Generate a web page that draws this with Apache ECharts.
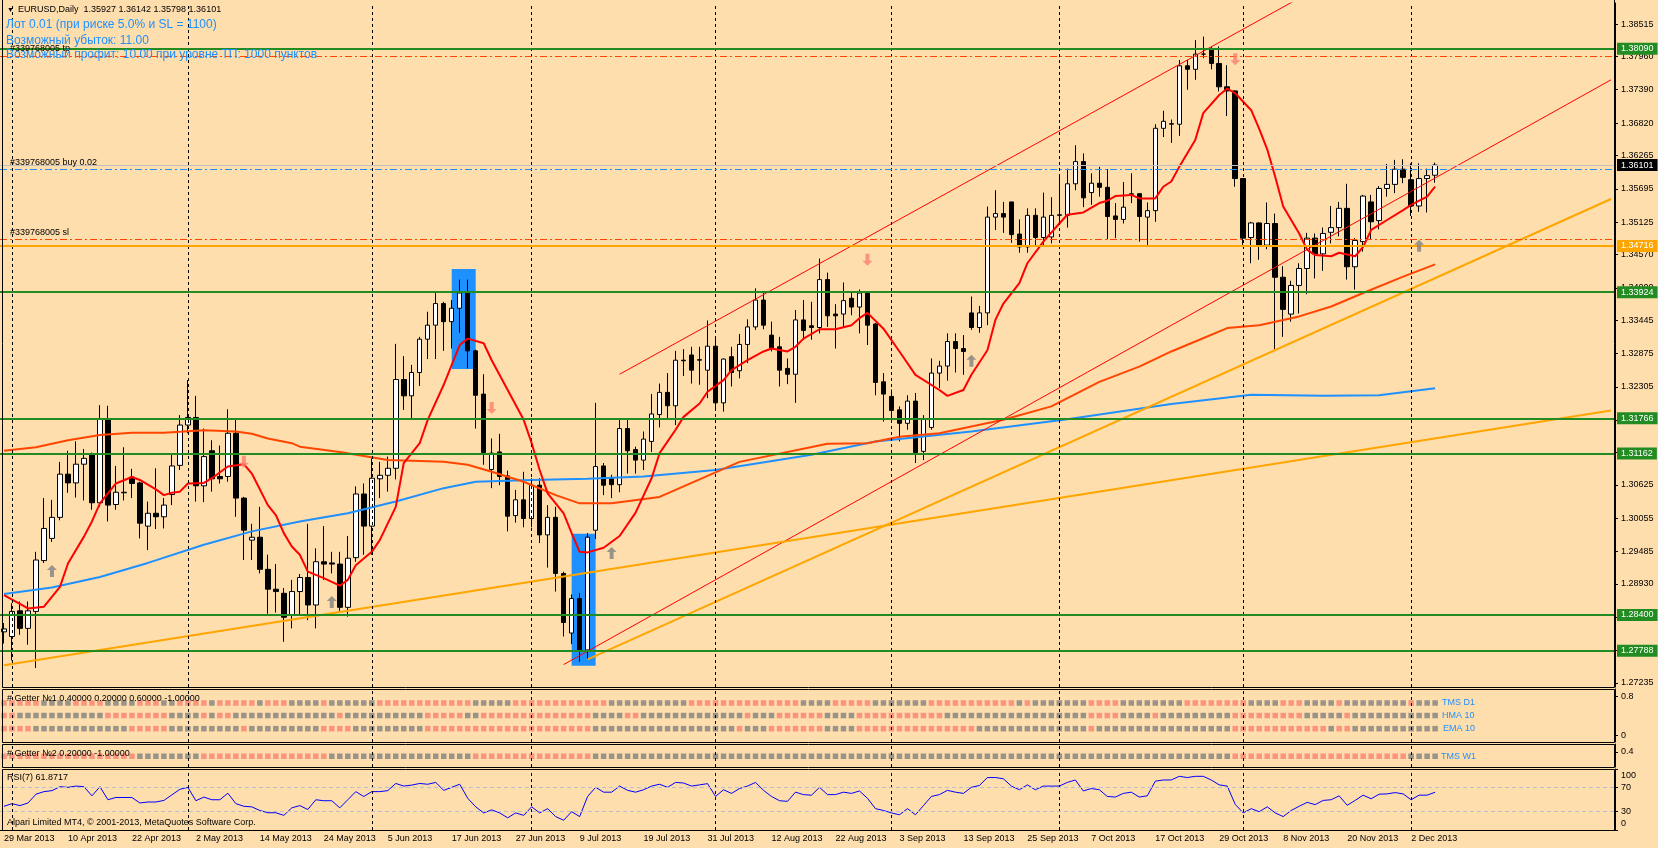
<!DOCTYPE html>
<html>
<head>
<meta charset="utf-8">
<title>EURUSD, Daily</title>
<script src="https://cdn.jsdelivr.net/npm/echarts@6/dist/echarts.min.js"></script>
<style>
html, body { margin: 0; padding: 0; background: #FFDEAD; }
#chart { width: 1658px; height: 848px; }
</style>
</head>
<body>
<div id="chart"></div>
<script>
// bottom axis labels, one every 8 bars from the first bar
var tickLabels = ['29 Mar 2013','10 Apr 2013','22 Apr 2013','2 May 2013','14 May 2013','24 May 2013','5 Jun 2013',
    '17 Jun 2013','27 Jun 2013','9 Jul 2013','19 Jul 2013','31 Jul 2013','12 Aug 2013','22 Aug 2013','3 Sep 2013',
    '13 Sep 2013','25 Sep 2013','7 Oct 2013','17 Oct 2013','29 Oct 2013','8 Nov 2013','20 Nov 2013','2 Dec 2013'];

// right price scale, as MT4 prints it
var priceTicks = [1.38515,1.37960,1.37390,1.36820,1.36265,1.35695,1.35125,1.34570,1.34000,1.33445,1.32875,
    1.32305,1.31735,1.31180,1.30625,1.30055,1.29485,1.28930,1.28360,1.27790,1.27235];

// bar index of the first bar of each month (period separators)
var monthStarts = [1, 23, 46, 66, 89, 111, 132, 155, 176];

// daily bars: open, high, low, close
var ohlc = [
[1.2811,1.2826,1.2791,1.2816],[1.2803,1.2860,1.2762,1.2846],[1.2847,1.2863,1.2806,1.2817],[1.2817,1.2863,1.2789,1.2847],
[1.2846,1.2948,1.2749,1.2934],[1.2933,1.3040,1.2929,1.2988],[1.2971,1.3037,1.2965,1.3007],[1.3007,1.3102,1.3002,1.3081],
[1.3081,1.3121,1.3049,1.3066],[1.3066,1.3137,1.3041,1.3098],[1.3098,1.3124,1.3036,1.3108],[1.3114,1.3118,1.3020,1.3032],
[1.3032,1.3199,1.3025,1.3175],[1.3175,1.3198,1.3000,1.3028],[1.3029,1.3095,1.3020,1.3050],[1.3049,1.3127,1.3036,1.3050],
[1.3076,1.3090,1.3040,1.3065],[1.3066,1.3068,1.2971,1.2997],[1.2992,1.3034,1.2951,1.3014],[1.3014,1.3091,1.2987,1.3008],
[1.3008,1.3040,1.2988,1.3028],[1.3046,1.3115,1.3028,1.3095],[1.3096,1.3182,1.3088,1.3165],[1.3165,1.3242,1.3151,1.3178],
[1.3178,1.3215,1.3034,1.3061],[1.3061,1.3159,1.3033,1.3111],[1.3121,1.3139,1.3051,1.3073],[1.3077,1.3130,1.3065,1.3073],
[1.3077,1.3192,1.3068,1.3151],[1.3151,1.3175,1.3008,1.3040],[1.3040,1.3042,1.2934,1.2985],[1.2968,1.2996,1.2934,1.2973],
[1.2973,1.3025,1.2911,1.2918],[1.2918,1.2943,1.2842,1.2884],[1.2884,1.2927,1.2844,1.2880],[1.2877,1.2886,1.2794,1.2836],
[1.2840,1.2900,1.2817,1.2880],[1.2880,1.2910,1.2840,1.2904],[1.2904,1.2996,1.2831,1.2857],[1.2857,1.2954,1.2817,1.2931],
[1.2931,1.2992,1.2900,1.2927],[1.2929,1.2948,1.2911,1.2927],[1.2927,1.2948,1.2847,1.2853],[1.2853,1.2975,1.2837,1.2937],
[1.2938,1.3060,1.2931,1.3047],[1.3047,1.3065,1.2943,1.2992],[1.2992,1.3108,1.2943,1.3074],[1.3073,1.3102,1.3040,1.3079],
[1.3079,1.3111,1.3051,1.3091],[1.3091,1.3304,1.3072,1.3243],[1.3243,1.3283,1.3191,1.3215],[1.3215,1.3268,1.3175,1.3255],
[1.3255,1.3316,1.3232,1.3312],[1.3312,1.3359,1.3278,1.3336],[1.3336,1.3391,1.3278,1.3373],[1.3373,1.3376,1.3292,1.3342],
[1.3342,1.3379,1.3296,1.3365],[1.3365,1.3414,1.3323,1.3391],[1.3391,1.3414,1.3262,1.3292],[1.3292,1.3294,1.3159,1.3216],
[1.3218,1.3252,1.3097,1.3118],[1.3089,1.3142,1.3057,1.3117],[1.3119,1.3150,1.3062,1.3077],[1.3078,1.3087,1.2983,1.3009],
[1.3010,1.3054,1.2998,1.3037],[1.3037,1.3085,1.2990,1.3005],[1.3005,1.3074,1.2990,1.3062],[1.3062,1.3074,1.2963,1.2977],
[1.2977,1.3028,1.2921,1.3007],[1.3007,1.3025,1.2880,1.2911],[1.2911,1.2914,1.2803,1.2827],[1.2809,1.2875,1.2790,1.2868],
[1.2868,1.2877,1.2760,1.2780],[1.2780,1.2980,1.2765,1.2973],[1.2985,1.3203,1.2970,1.3094],[1.3095,1.3100,1.3045,1.3062],
[1.3074,1.3080,1.3040,1.3063],[1.3063,1.3174,1.3050,1.3159],[1.3159,1.3174,1.3082,1.3121],[1.3123,1.3128,1.3082,1.3105],
[1.3105,1.3154,1.3088,1.3141],[1.3137,1.3218,1.3119,1.3184],[1.3183,1.3236,1.3161,1.3221],[1.3221,1.3254,1.3177,1.3198],
[1.3198,1.3292,1.3165,1.3276],[1.3276,1.3295,1.3249,1.3275],[1.3285,1.3299,1.3236,1.3259],[1.3276,1.3299,1.3234,1.3277],
[1.3259,1.3344,1.3211,1.3300],[1.3300,1.3313,1.3191,1.3203],[1.3203,1.3279,1.3188,1.3278],[1.3282,1.3299,1.3231,1.3255],
[1.3258,1.3321,1.3245,1.3303],[1.3303,1.3346,1.3271,1.3333],[1.3333,1.3399,1.3328,1.3379],[1.3379,1.3391,1.3329,1.3336],
[1.3319,1.3342,1.3291,1.3296],[1.3299,1.3316,1.3231,1.3259],[1.3262,1.3279,1.3235,1.3252],[1.3252,1.3362,1.3203,1.3345],
[1.3345,1.3379,1.3311,1.3327],[1.3335,1.3376,1.3311,1.3332],[1.3332,1.3450,1.3322,1.3414],[1.3414,1.3426,1.3333,1.3352],
[1.3355,1.3372,1.3296,1.3352],[1.3355,1.3409,1.3333,1.3378],[1.3382,1.3393,1.3353,1.3367],[1.3367,1.3397,1.3322,1.3391],
[1.3391,1.3393,1.3302,1.3336],[1.3338,1.3340,1.3216,1.3238],[1.3239,1.3254,1.3171,1.3218],[1.3214,1.3226,1.3177,1.3190],
[1.3191,1.3197,1.3137,1.3168],[1.3168,1.3216,1.3157,1.3206],[1.3206,1.3220,1.3100,1.3118],[1.3120,1.3182,1.3105,1.3175],
[1.3161,1.3279,1.3157,1.3254],[1.3254,1.3275,1.3228,1.3266],[1.3266,1.3322,1.3241,1.3308],[1.3308,1.3322,1.3255,1.3296],
[1.3296,1.3319,1.3251,1.3291],[1.3357,1.3385,1.3328,1.3332],[1.3332,1.3369,1.3323,1.3357],[1.3357,1.3539,1.3336,1.3521],
[1.3521,1.3567,1.3499,1.3527],[1.3527,1.3547,1.3494,1.3521],[1.3547,1.3547,1.3477,1.3491],[1.3492,1.3517,1.3460,1.3470],
[1.3470,1.3536,1.3460,1.3524],[1.3524,1.3536,1.3470,1.3486],[1.3486,1.3563,1.3470,1.3521],[1.3487,1.3555,1.3476,1.3524],
[1.3524,1.3591,1.3510,1.3525],[1.3524,1.3604,1.3503,1.3578],[1.3578,1.3644,1.3567,1.3616],[1.3616,1.3630,1.3538,1.3554],
[1.3563,1.3596,1.3542,1.3579],[1.3579,1.3607,1.3556,1.3572],[1.3572,1.3603,1.3483,1.3522],[1.3523,1.3545,1.3485,1.3517],
[1.3517,1.3581,1.3510,1.3538],[1.3560,1.3596,1.3545,1.3561],[1.3561,1.3562,1.3479,1.3522],[1.3521,1.3546,1.3472,1.3532],
[1.3532,1.3680,1.3513,1.3673],[1.3673,1.3703,1.3658,1.3685],[1.3680,1.3688,1.3648,1.3681],[1.3680,1.3790,1.3660,1.3780],
[1.3780,1.3790,1.3739,1.3774],[1.3774,1.3824,1.3756,1.3800],[1.3800,1.3830,1.3793,1.3800],[1.3808,1.3813,1.3774,1.3784],
[1.3784,1.3813,1.3736,1.3744],[1.3744,1.3781,1.3694,1.3737],[1.3737,1.3738,1.3573,1.3587],[1.3587,1.3588,1.3473,1.3485],
[1.3486,1.3513,1.3442,1.3511],[1.3511,1.3512,1.3448,1.3473],[1.3473,1.3546,1.3466,1.3510],[1.3510,1.3527,1.3295,1.3418],
[1.3418,1.3437,1.3316,1.3363],[1.3355,1.3412,1.3342,1.3404],[1.3404,1.3442,1.3356,1.3433],[1.3433,1.3494,1.3389,1.3485],
[1.3485,1.3493,1.3416,1.3458],[1.3458,1.3503,1.3429,1.3493],[1.3495,1.3540,1.3476,1.3503],[1.3503,1.3547,1.3488,1.3536],
[1.3536,1.3578,1.3414,1.3436],[1.3436,1.3485,1.3397,1.3481],[1.3479,1.3559,1.3462,1.3557],[1.3547,1.3559,1.3482,1.3513],
[1.3515,1.3574,1.3500,1.3570],[1.3570,1.3612,1.3556,1.3577],[1.3577,1.3619,1.3562,1.3603],[1.3603,1.3620,1.3579,1.3589],
[1.3585,1.3613,1.3523,1.3540],[1.3540,1.3613,1.3530,1.3587],[1.3587,1.3604,1.3529,1.3592],[1.35927,1.36142,1.35798,1.36101]
];

// moving averages: [bar, price]
var fastMA = [[0,1.2874],[3,1.2851],[5,1.2854],[7,1.2888],[8,1.2928],[10,1.2974],[11,1.3000],[12,1.3031],[13,1.3048],
    [14,1.3065],[16,1.3076],[17,1.3071],[19,1.3055],[20,1.3045],[21,1.3049],[22,1.3051],[23,1.3065],[25,1.3066],[26,1.3074],
    [28,1.3094],[30,1.3098],[31,1.3082],[33,1.3028],[34,1.3011],[35,1.2980],[36,1.2957],[37,1.2943],[38,1.2914],[40,1.2903],
    [42,1.2890],[43,1.2900],[44,1.2925],[46,1.2948],[47,1.2968],[49,1.3025],[50,1.3100],[52,1.3134],[53,1.3174],[55,1.3234],
    [56,1.3268],[57,1.3302],[58,1.3313],[60,1.3305],[61,1.3276],[63,1.3225],[65,1.3174],[66,1.3134],[67,1.3088],[68,1.3048],
    [70,1.3014],[71,1.2980],[72,1.2948],[73,1.2947],[75,1.2955],[77,1.2975],[79,1.3015],[81,1.3074],[82,1.3117],[84,1.3157],
    [85,1.3179],[87,1.3202],[88,1.3222],[90,1.3242],[91,1.3259],[93,1.3276],[95,1.3291],[96,1.3296],[98,1.3291],[99,1.3299],
    [100,1.3313],[102,1.3329],[104,1.3329],[106,1.3336],[107,1.3348],[108,1.3357],[110,1.3330],[112,1.3291],[114,1.3251],
    [117,1.3225],[118,1.3215],[120,1.3225],[121,1.3251],[123,1.3293],[124,1.3345],[125,1.3373],[127,1.3408],[128,1.3442],
    [130,1.3479],[132,1.3510],[133,1.3525],[135,1.3529],[137,1.3545],[138,1.3549],[139,1.3557],[141,1.3559],[142,1.3553],
    [144,1.3553],[145,1.3573],[146,1.3582],[147,1.3607],[149,1.3653],[150,1.3699],[152,1.3730],[153,1.3741],[154,1.3733],
    [156,1.3704],[157,1.3672],[158,1.3637],[159,1.3590],[160,1.3539],[162,1.3493],[163,1.3465],[164,1.3456],[166,1.3454],
    [167,1.3460],[169,1.3454],[170,1.3470],[171,1.3499],[173,1.3516],[175,1.3533],[176,1.3542],[178,1.3556],[179,1.3573]];
var slowMA = [[0,1.3121],[4,1.3127],[8,1.3139],[12,1.3148],[16,1.3152],[20,1.3152],[25,1.3156],[29,1.3154],[31,1.3150],
    [33,1.3142],[36,1.3134],[37,1.3128],[42,1.3119],[48,1.3105],[55,1.3102],[58,1.3097],[61,1.3085],[65,1.3068],[69,1.3045],
    [72,1.3031],[76,1.3031],[82,1.3042],[92,1.3102],[103,1.3133],[108,1.3134],[112,1.3145],[117,1.3151],[125,1.3174],
    [131,1.3197],[137,1.3239],[142,1.3265],[146,1.3291],[149,1.3308],[153,1.3331],[157,1.3336],[162,1.3351],[166,1.3368],
    [170,1.3391],[175,1.3419],[179,1.3440]];
var longMA = [[0,1.2876],[6,1.2887],[12,1.2905],[18,1.2929],[25,1.2960],[31,1.2983],[37,1.3000],[43,1.3014],[49,1.3034],
    [55,1.3057],[59,1.3068],[66,1.3071],[73,1.3073],[80,1.3077],[89,1.3088],[101,1.3114],[109,1.3137],[121,1.3154],[133,1.3175],
    [146,1.3201],[156,1.3217],[165,1.3215],[172,1.3216],[179,1.3228]];

// drawn objects
var redTrends = [[[77,1.3252],[164,1.3911]], [[70,1.2755],[201,1.3756]]];
var orangeTrends = [[[0,1.2754],[201,1.3190]], [[73,1.2764],[201,1.3552]]];
var blueBoxes = [[56,1.3432,59,1.3261], [71,1.2979,74,1.2753]];
var upArrows = [[6,1.2915],[41,1.2862],[76,1.2946],[121,1.3275],[177,1.3472]];
var downArrows = [[30,1.3102],[61,1.3194],[108,1.3448],[154,1.3791]];
var greenLevels = [1.38090, 1.33924, 1.31766, 1.31162, 1.28400, 1.27788];
var orangeLevel = 1.34716;
var bidPrice = 1.36101;
var orderOpen = 1.36030, orderTP = 1.37960, orderSL = 1.34830;

// Getter squares per bar: s = salmon, g = gray
var rowTMSD1 = 'sssssggggs sssggggsss ggssssgsss ssgsssgggg sggggggsss sssssssssg ggggssssss ssssssgggg ggggggssss ssssssssss ggggsssssg ggggggssss sssssssgsg ggggggssss ggggggggss ssssssgggg sssggggsgg ggggggsggg';
var rowHMA10 = 'ssgggggggg gggsssssss sggggsgssg gggggggggg ggsggggggg gggsssssgg ssssssssss ssssggggss gggggggggg gggsgggsss sssggggsss ssssssssgg gggggggggg ggggggssss ggggsggggg ggggssssss sssgggggsg gggggggggg';
var rowEMA10 = 'ssssgggggg ggggggssss sggggggggg sggggggggg ssssgggggg gggsssssss ssssssssss ssssgggggg gggggggggg ggsgggssss sssggggsss ssssssssss ssgggggggg ggggggsggg gggggggggg ggggssssss ssssssgssg gggggggggg';
var rowTMSW1 = 'ssssssssss sssssssggg gggggsssss ssssssssss sggggggggg gggggggggs ssssssssss ssssgggggg gggggggggg gggggggggg gggggggggg gggggggggg gggggggggg gggggggggg gggggggggg ggggssssss ssssssssss ssssssgggg';

// RSI(7)
var rsi = [38.9,43.2,40,44.3,58.7,62.9,64.5,71,69.9,72, 71,56,71,49.6,53.3,53.3,53.3,44.3,45.9,45.9,
    48.5,57.6,66.7,69.9,48,53.9,49.6,49.6,60.3,43.2, 38.9,37.9,32,28.3,28.3,24,36.3,40,33.6,49.6,
    48,48,36.3,49.6,62.9,54.9,62.9,62.9,64.5,76.3, 72,73.6,76.3,75,78,65,70,75,52,38,
    28,33,28,20,28,24,38,28,35,22, 16,30,22,55,70,62,62,72,65,62,
    66,72,75,70,78,77,72,74,76,55, 66,60,68,72,78,65,55,48,47,62,
    58,57,70,58,58,62,60,64,52,35, 32,28,25,35,25,40,55,58,65,62,
    60,70,73,86,86,84,72,66,74,66, 72,72,72,78,82,64,68,66,55,54,
    60,62,54,56,80,82,82,88,86,88, 88,82,74,72,42,28,35,30,38,28,
    22,32,38.9,45.3,41.6,48.5,49.6,56,40.5,48.5, 57.1,51.2,58.7,59.2,61.3,59.2,49.6,57.1,57.1,61.87];

var FONT = '"Liberation Sans", Arial, sans-serif';
var BG = '#FFDEAD', GREEN = '#228B22', ORANGE = '#FFA500', ORED = '#FF4500', DBLUE = '#1E90FF';
var SALMON = '#FA8072', GRAY = '#808080';
var NSLOTS = 202;

var cats = [];
for (var k = 0; k < NSLOTS; k++) cats.push(String(k));

function sepLines() {
    return monthStarts.map(function (i) {
        return { xAxis: i, lineStyle: { color: '#000', type: [3, 3], width: 1 } };
    });
}

function levelLine(price, color, type, width, box, boxText) {
    var item = { yAxis: price, lineStyle: { color: color, type: type, width: width }, label: { show: false } };
    if (box) {
        item.label = {
            show: true, position: 'end', distance: 2, formatter: price.toFixed(5),
            backgroundColor: color, color: boxText || '#fff', padding: [2, 4, 1, 4],
            fontSize: 9, fontFamily: FONT
        };
    }
    return item;
}

function squareRow(str, level) {
    return str.replace(/ /g, '').split('').map(function (c, i) {
        return { value: [i, level], itemStyle: { color: c === 's' ? SALMON : GRAY } };
    });
}

var levelItems = [];
greenLevels.forEach(function (p) { levelItems.push(levelLine(p, GREEN, 'solid', 2, true)); });
levelItems.push(levelLine(orderTP, ORED, [7, 3, 2, 3], 1, false));
levelItems.push(levelLine(orderSL, ORED, [7, 3, 2, 3], 1, false));
levelItems.push(levelLine(orderOpen, DBLUE, [7, 3, 2, 3], 1, false));
levelItems.push(levelLine(orangeLevel, ORANGE, 'solid', 2, true));
var bidItem = levelLine(bidPrice, '#C0C0C0', 'solid', 1, true);
bidItem.label.backgroundColor = '#000';
levelItems.push(bidItem);

var gridBase = { left: -1, right: 43 };
var grids = [
    Object.assign({ top: 3, height: 684 }, gridBase),
    Object.assign({ top: 689, height: 53 }, gridBase),
    Object.assign({ top: 744, height: 23 }, gridBase),
    Object.assign({ top: 769, height: 61 }, gridBase)
];

var xAxes = grids.map(function (g, idx) {
    var ax = { type: 'category', gridIndex: idx, data: cats, boundaryGap: true, show: false };
    if (idx === 3) {
        ax.show = true;
        ax.axisLine = { lineStyle: { color: '#000', width: 1 } };
        ax.axisTick = { alignWithLabel: true, length: 4, lineStyle: { color: '#000' },
            interval: function (i) { return i % 8 === 0 && i <= 176; } };
        ax.axisLabel = { align: 'left', margin: 4, fontSize: 9, fontFamily: FONT, color: '#000',
            interval: function (i) { return i % 8 === 0 && i <= 176; },
            formatter: function (v, i) { return tickLabels[i / 8] || ''; } };
        ax.splitLine = { show: false };
    }
    return ax;
});

function rightAxis(idx, min, max, values, fmt, extra) {
    var ax = {
        type: 'value', gridIndex: idx, position: 'right', min: min, max: max,
        axisLine: { show: true, lineStyle: { color: '#000' } },
        axisTick: { show: true, length: 3, customValues: values, lineStyle: { color: '#000' } },
        axisLabel: { customValues: values, margin: 6, fontSize: 9, fontFamily: FONT, color: '#000', formatter: fmt },
        splitLine: { show: false }
    };
    if (extra) Object.assign(ax.axisLabel, extra);
    return ax;
}

var yAxes = [
    rightAxis(0, 1.27166, 1.38875, priceTicks, function (v) { return v.toFixed(5); }),
    rightAxis(1, -0.1333, 0.9538, [0, 0.8], function (v) { return String(v); }),
    rightAxis(2, -0.306, 0.776, [0, 0.4], function (v) { return String(v); }),
    rightAxis(3, 0, 100, [0, 30, 70, 100], function (v) {
        if (v === 100) return '{t|100}';
        if (v === 0) return '{b|0}';
        return String(v);
    }, { rich: {
        t: { padding: [14, 0, 0, 0], fontSize: 9, fontFamily: FONT, color: '#000' },
        b: { padding: [0, 0, 13, 0], fontSize: 9, fontFamily: FONT, color: '#000' }
    } })
];

var arrowPath = 'path://M5,0L10,5L7,5L7,12L3,12L3,5L0,5Z';

var series = [
    {   // separators and blue rectangles, behind the bars
        type: 'line', xAxisIndex: 0, yAxisIndex: 0, data: [], z: 1, silent: true,
        markLine: { symbol: ['none', 'none'], silent: true, animation: false, label: { show: false }, data: sepLines() },
        markArea: { silent: true, itemStyle: { color: DBLUE, opacity: 1 },
            data: blueBoxes.map(function (b) { return [{ coord: [b[0], b[1]] }, { coord: [b[2], b[3]] }]; }) }
    },
    {
        type: 'candlestick', xAxisIndex: 0, yAxisIndex: 0, z: 3, barWidth: 5,
        data: ohlc.map(function (r) { return [r[0], r[3], r[2], r[1]]; }),
        itemStyle: { color: '#FFFFFF', color0: '#000000', borderColor: '#000000', borderColor0: '#000000', borderWidth: 1 }
    },
    { type: 'line', xAxisIndex: 0, yAxisIndex: 0, z: 4, data: longMA, symbol: 'none', lineStyle: { color: DBLUE, width: 2 } },
    { type: 'line', xAxisIndex: 0, yAxisIndex: 0, z: 4, data: slowMA, symbol: 'none', lineStyle: { color: ORED, width: 2 } },
    { type: 'line', xAxisIndex: 0, yAxisIndex: 0, z: 4, data: fastMA, symbol: 'none', lineStyle: { color: '#FF0000', width: 2 } }
];

redTrends.forEach(function (t) {
    series.push({ type: 'line', xAxisIndex: 0, yAxisIndex: 0, z: 4, data: t, symbol: 'none', clip: true,
        lineStyle: { color: '#FF0000', width: 1 } });
});
orangeTrends.forEach(function (t) {
    series.push({ type: 'line', xAxisIndex: 0, yAxisIndex: 0, z: 4, data: t, symbol: 'none', clip: true,
        lineStyle: { color: ORANGE, width: 2 } });
});

series.push({
    type: 'line', xAxisIndex: 0, yAxisIndex: 0, data: [], z: 5, silent: true,
    markLine: { symbol: ['none', 'none'], silent: true, animation: false, precision: 5, data: levelItems }
});
series.push({ type: 'scatter', xAxisIndex: 0, yAxisIndex: 0, z: 6, data: upArrows, symbol: arrowPath,
    symbolSize: [10, 12], itemStyle: { color: GRAY } });
series.push({ type: 'scatter', xAxisIndex: 0, yAxisIndex: 0, z: 6, data: downArrows, symbol: arrowPath,
    symbolSize: [10, 12], symbolRotate: 180, itemStyle: { color: SALMON } });

// Getter panels
[[rowTMSD1, 0.667], [rowHMA10, 0.41], [rowEMA10, 0.14]].forEach(function (r, n) {
    var s = { type: 'scatter', xAxisIndex: 1, yAxisIndex: 1, data: squareRow(r[0], r[1]), symbol: 'rect', symbolSize: 5.5, z: 3 };
    if (n === 0) s.markLine = { symbol: ['none', 'none'], silent: true, label: { show: false }, data: sepLines() };
    series.push(s);
});
series.push({ type: 'scatter', xAxisIndex: 2, yAxisIndex: 2, data: squareRow(rowTMSW1, 0.2), symbol: 'rect', symbolSize: 5.5, z: 3,
    markLine: { symbol: ['none', 'none'], silent: true, label: { show: false }, data: sepLines() } });

// RSI
var rsiMarks = sepLines().concat([30, 70].map(function (v) {
    return { yAxis: v, lineStyle: { color: '#B8C0D0', type: [4, 3], width: 1 } };
}));
series.push({ type: 'line', xAxisIndex: 3, yAxisIndex: 3, data: rsi, symbol: 'none', z: 3,
    lineStyle: { color: '#0000FF', width: 1 },
    markLine: { symbol: ['none', 'none'], silent: true, label: { show: false }, data: rsiMarks } });

function txt(x, y, s, color, size) {
    return { type: 'text', x: x, y: y, z: 100, silent: true,
        style: { text: s, fill: color, font: size + 'px ' + FONT, verticalAlign: 'middle', align: 'left' } };
}
function frame(y0, y1) {
    return { type: 'rect', z: 90, silent: true, shape: { x: 2.5, y: y0, width: 1612, height: y1 - y0 },
        style: { fill: null, stroke: '#000', lineWidth: 1 } };
}

var graphics = [
    frame(-2, 687.5), frame(689.5, 742.5), frame(744.5, 767.5), frame(769.5, 830.5),
    txt(7, 10, '\u25BC', '#000', 7),
    txt(18, 10, 'EURUSD,Daily  1.35927 1.36142 1.35798 1.36101', '#000', 9),
    txt(10, 49, '#339768005 tp', '#000', 9),
    txt(6, 25, 'Лот 0.01 (при риске 5.0% и SL = 1100)', DBLUE, 12),
    txt(6, 41, 'Возможный убыток: 11.00', DBLUE, 12),
    txt(6, 55, 'Возможный профит: 10.00 при уровне ТП: 1000 пунктов', DBLUE, 12),
    txt(10, 163, '#339768005 buy 0.02', '#000', 9),
    txt(10, 233, '#339768005 sl', '#000', 9),
    txt(7, 699, '# Getter №1 0.40000 0.20000 0.60000 -1.00000', '#000', 9),
    txt(1442, 703, 'TMS D1', DBLUE, 9),
    txt(1442, 715.5, 'HMA 10', DBLUE, 9),
    txt(1443, 728.5, 'EMA 10', DBLUE, 9),
    txt(7, 754, '# Getter №2 0.20000 -1.00000', '#000', 9),
    txt(1441, 757, 'TMS W1', DBLUE, 9),
    txt(7, 778, 'RSI(7) 61.8717', '#000', 9),
    txt(7, 823, 'Alpari Limited MT4, © 2001-2013, MetaQuotes Software Corp.', '#000', 9)
];

var chart = echarts.init(document.getElementById('chart'));
chart.setOption({
    backgroundColor: BG,
    animation: false,
    grid: grids,
    xAxis: xAxes,
    yAxis: yAxes,
    series: series,
    graphic: graphics
});
</script>
</body>
</html>
